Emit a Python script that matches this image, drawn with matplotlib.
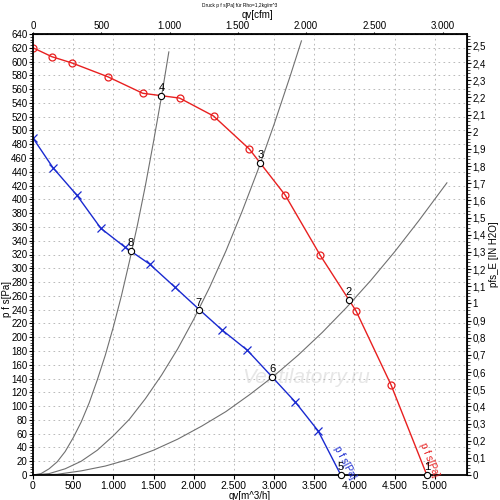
import numpy as np
import matplotlib
matplotlib.use("Agg")
import matplotlib.pyplot as plt
from matplotlib.ticker import FuncFormatter, MultipleLocator

# Kennlinie p f s (rot, Kreise)
q_rot = [0, 236, 484, 930, 1365, 1824, 2246, 2692, 3139, 3573, 4020, 4454, 4900]
p_rot = [620, 607, 598, 578, 554, 547, 521, 473, 406, 319, 238, 131, 0]
mark_rot = 12  # letzter Punkt ohne Marker

# Kennlinie p f s (blau, Kreuze)
q_blau = [0, 248, 546, 844, 1141, 1452, 1762, 2060, 2357, 2667, 2978, 3263, 3548, 3830]
p_blau = [489, 446, 406, 358, 331, 306, 273, 241, 210, 181, 142, 106, 64, 0]
mark_blau = [0, 1, 2, 3, 4, 5, 6, 8, 9, 11, 12]

# Anlagenkennlinien (grau)
q_anl_a = [0, 100, 200, 300, 400, 500, 600, 700, 800, 900, 1000, 1100, 1200,
           1300, 1400, 1500, 1600, 1690]
p_anl_a = [0, 2, 9, 19, 34, 54, 77, 105, 138, 174, 215, 260, 310,
           363, 421, 484, 550, 614]
q_anl_b = [0, 200, 400, 600, 800, 1000, 1200, 1400, 1600, 1800, 2000, 2200, 2400,
           2600, 2800, 3000, 3200, 3340]
p_anl_b = [0, 2, 9, 20, 36, 57, 81, 111, 145, 183, 226, 273, 325,
           382, 443, 509, 579, 630]
q_anl_c = [0, 300, 600, 900, 1200, 1500, 1800, 2100, 2400, 2700, 3000, 3300, 3600,
           3900, 4200, 4500, 4800, 5150]
p_anl_c = [0, 1, 6, 13, 23, 36, 52, 71, 92, 117, 144, 174, 207,
           243, 282, 324, 369, 424]

# Betriebspunkte
bp_nr = ["1", "2", "3", "4", "5", "6", "7", "8"]
bp_q = [4900, 3930, 2829, 1597, 3830, 2978, 2060, 1216]
bp_p = [0, 254, 453, 550, 0, 142, 239, 325]

x_ticks = list(range(0, 5001, 500))
y_ticks = list(range(0, 641, 20))
cfm_ticks = list(range(0, 3001, 500))
inh2o_ticks = [i / 10 for i in range(0, 26)]

CFM = 1.699
INH2O = 249.09


def tausend(v, pos=None):
    v = int(round(v))
    return f"{v:,}".replace(",", ".")


def komma(v, pos=None):
    s = f"{v:.1f}".rstrip("0").rstrip(".")
    return s.replace(".", ",")


plt.rcParams["font.family"] = ["Liberation Sans", "DejaVu Sans"]

fig = plt.figure(figsize=(5, 5), dpi=100)
ax = fig.add_axes([0.066, 0.05, 0.868, 0.882])

ax.text(0.63, 0.22, "Ventilatorry.ru", transform=ax.transAxes, fontsize=15,
        style="italic", color="#e6e6e6", ha="center", va="center", zorder=0)

ax.plot(q_anl_a, p_anl_a, color="#707070", lw=0.8)
ax.plot(q_anl_b, p_anl_b, color="#707070", lw=0.8)
ax.plot(q_anl_c, p_anl_c, color="#707070", lw=0.8)

ax.plot(q_rot, p_rot, color="#e82020", lw=1.0)
ax.plot(q_rot[:mark_rot], p_rot[:mark_rot], ls="none", marker="o", ms=5,
        mfc="none", mec="#e82020", mew=0.9)
ax.plot(q_blau, p_blau, color="#1a2ad0", lw=1.0)
ax.plot([q_blau[i] for i in mark_blau], [p_blau[i] for i in mark_blau], ls="none",
        marker="x", ms=6, mec="#1a2ad0", mew=0.9)

ax.plot(bp_q, bp_p, ls="none", marker="o", ms=4.5, mfc="white", mec="black",
        mew=0.8, zorder=5, clip_on=False)
for nr, q, p in zip(bp_nr, bp_q, bp_p):
    ax.annotate(nr, (q, p), xytext=(0, 2), textcoords="offset points",
                ha="center", va="bottom", fontsize=8, zorder=6)

ax.text(3880, 18, "p f s[Pa]", color="#1a2ad0", fontsize=7, rotation=-62,
        ha="center", va="center")
ax.text(4930, 22, "p f s[Pa]", color="#e82020", fontsize=7, rotation=-68,
        ha="center", va="center")

ax.set_xlim(0, 5400)
ax.set_ylim(0, 640)
ax.set_xticks(x_ticks)
ax.set_yticks(y_ticks)
ax.yaxis.set_minor_locator(MultipleLocator(4))
ax.xaxis.set_major_formatter(FuncFormatter(tausend))
ax.tick_params(axis="x", labelsize=7.5, length=3, width=0.8, pad=1)
ax.tick_params(axis="y", labelsize=7, length=3, width=0.8, pad=1)
ax.tick_params(axis="y", which="minor", length=2, width=0.5)
ax.grid(True, which="major", color="#b0b0b0", ls=(0, (2, 4)), lw=0.6)
for s in ax.spines.values():
    s.set_linewidth(1.3)

ax.set_xlabel("qv[m^3/h]", fontsize=7, labelpad=0)
ax.set_ylabel("p f s[Pa]", fontsize=7, va="center")
ax.yaxis.set_label_coords(-0.06, 0.4)

top = ax.secondary_xaxis("top", functions=(lambda q: q / CFM, lambda c: c * CFM))
top.set_xticks(cfm_ticks)
top.xaxis.set_minor_locator(MultipleLocator(100))
top.xaxis.set_major_formatter(FuncFormatter(tausend))
top.tick_params(labelsize=7, length=1.5, width=0.8, pad=0.3)
top.tick_params(which="minor", length=1, width=0.5)
fig.text(0.514, 0.97, "qv[cfm]", fontsize=7, ha="center", va="center")

right = ax.secondary_yaxis("right", functions=(lambda p: p / INH2O, lambda h: h * INH2O))
right.set_yticks(inh2o_ticks)
right.yaxis.set_minor_locator(MultipleLocator(0.02))
right.yaxis.set_major_formatter(FuncFormatter(komma))
right.tick_params(labelsize=7, length=3, width=0.8, pad=1)
right.tick_params(which="minor", length=2, width=0.5)
right.set_ylabel("pfs_E [IN H2O]", fontsize=7, labelpad=2)

fig.text(0.48, 0.99, "Druck p f s[Pa] für Rho=1,2kg/m^3", fontsize=3.5,
         ha="center", va="center")

fig.savefig("out.png", dpi=100)
